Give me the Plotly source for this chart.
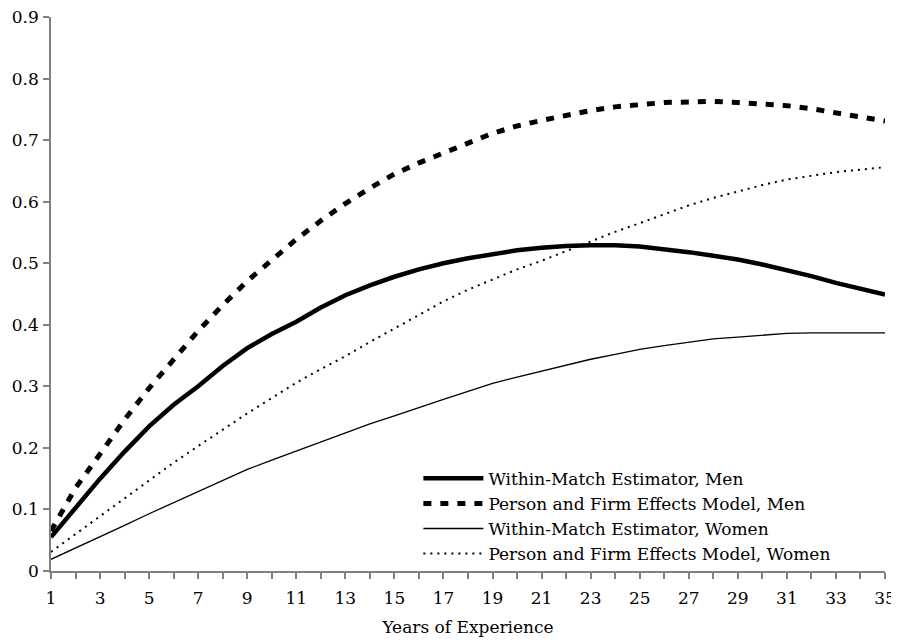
import plotly.graph_objects as go

years = list(range(1, 36))

within_men = [0.055, 0.103, 0.150, 0.194, 0.235, 0.270, 0.300, 0.333, 0.362, 0.385,
              0.405, 0.428, 0.448, 0.464, 0.478, 0.490, 0.500, 0.508, 0.515, 0.521,
              0.525, 0.528, 0.529, 0.529, 0.527, 0.523, 0.518, 0.512, 0.506, 0.498,
              0.489, 0.479, 0.468, 0.459, 0.449]

person_men = [0.065, 0.135, 0.190, 0.246, 0.297, 0.345, 0.390, 0.432, 0.471, 0.505,
              0.539, 0.569, 0.597, 0.622, 0.645, 0.663, 0.680, 0.695, 0.711, 0.723,
              0.732, 0.741, 0.748, 0.754, 0.758, 0.761, 0.762, 0.763, 0.761, 0.759,
              0.756, 0.751, 0.745, 0.738, 0.731]

within_women = [0.019, 0.037, 0.055, 0.074, 0.093, 0.111, 0.129, 0.147, 0.165, 0.180,
                0.195, 0.210, 0.225, 0.239, 0.252, 0.266, 0.279, 0.292, 0.305, 0.315,
                0.325, 0.335, 0.344, 0.352, 0.360, 0.366, 0.372, 0.377, 0.380, 0.383,
                0.386, 0.387, 0.387, 0.387, 0.387]

person_women = [0.031, 0.060, 0.090, 0.119, 0.148, 0.176, 0.203, 0.230, 0.256, 0.281,
                0.306, 0.328, 0.349, 0.372, 0.394, 0.416, 0.438, 0.457, 0.474, 0.490,
                0.504, 0.520, 0.536, 0.551, 0.565, 0.580, 0.594, 0.606, 0.617, 0.627,
                0.636, 0.642, 0.648, 0.652, 0.656]

series_names = ["Within-Match Estimator, Men",
                "Person and Firm Effects Model, Men",
                "Within-Match Estimator, Women",
                "Person and Firm Effects Model, Women"]

x_tick_labels = [str(y) if y % 2 == 1 else "" for y in years]
y_tick_vals = [0, 0.1, 0.2, 0.3, 0.4, 0.5, 0.6, 0.7, 0.8, 0.9]
y_tick_labels = ["0", "0.1", "0.2", "0.3", "0.4", "0.5", "0.6", "0.7", "0.8", "0.9"]

FONT = "DejaVu Serif"
FS = 17

fig = go.Figure()
fig.add_trace(go.Scatter(x=years, y=within_men, mode="lines", name=series_names[0],
                         line=dict(color="black", width=4.5)))
fig.add_trace(go.Scatter(x=years, y=person_men, mode="lines", name=series_names[1],
                         line=dict(color="black", width=5, dash="8px,9px")))
fig.add_trace(go.Scatter(x=years, y=within_women, mode="lines", name=series_names[2],
                         line=dict(color="black", width=1.3)))
fig.add_trace(go.Scatter(x=years, y=person_women, mode="lines", name=series_names[3],
                         line=dict(color="black", width=2, dash="2px,5px")))

# page body adds an 8px margin, so the figure is sized 8px smaller
fig.update_layout(
    width=891, height=635,
    margin=dict(l=43, r=14, t=9, b=72),
    paper_bgcolor="white", plot_bgcolor="white",
    font=dict(family=FONT, size=FS, color="black"),
    showlegend=True,
    legend=dict(x=0.4405, y=0.199, xanchor="left", yanchor="top",
                bgcolor="rgba(0,0,0,0)", font=dict(family=FONT, size=FS),
                itemwidth=60, tracegroupgap=0),
    xaxis=dict(range=[1, 35], tickmode="array", tickvals=years, ticktext=x_tick_labels,
               showline=True, linecolor="#808080", linewidth=1.5,
               ticks="outside", ticklen=6, tickcolor="#808080", tickwidth=1.5,
               showgrid=False, zeroline=False, ticklabelstandoff=5, automargin=False,
               ticklabeloverflow="allow",
               title=dict(text="Years of Experience", standoff=14,
                          font=dict(family=FONT, size=FS))),
    yaxis=dict(range=[0, 0.9], tickmode="array", tickvals=y_tick_vals, ticktext=y_tick_labels,
               showline=True, linecolor="#808080", linewidth=1.5,
               ticks="outside", ticklen=6, tickcolor="#808080", tickwidth=1.5,
               showgrid=False, zeroline=False, ticklabelstandoff=1, automargin=False,
               ticklabeloverflow="allow"),
)

fig.write_html("out.html")
